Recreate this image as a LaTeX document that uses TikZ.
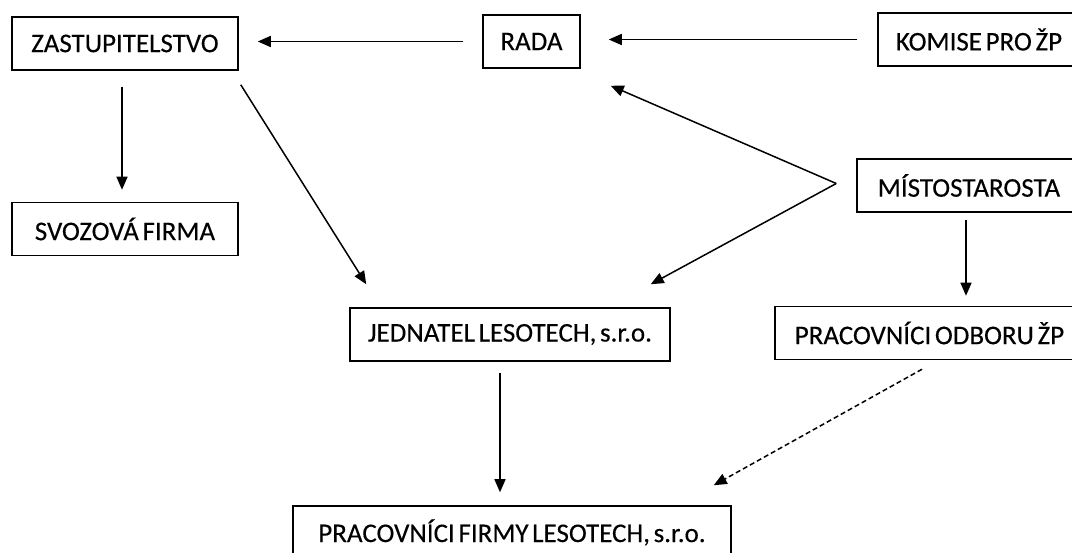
\documentclass[tikz,border=0pt]{standalone}
\usepackage{fontspec}
\setmainfont{Carlito}[WordSpace=0.6, FakeBold=0.3]
\usetikzlibrary{arrows.meta,positioning}

\tikzset{
  box/.style={draw, line width=1.5pt, minimum height=53pt, inner sep=0pt,
    font=\fontsize{27}{31}\selectfont},
  arr/.style={-{Triangle[length=13pt,width=11pt]}, line width=1.5pt},
}

\begin{document}
\begin{tikzpicture}[x=1pt,y=-1pt]
\useasboundingbox (0,0) rectangle (1072,553);

% boxes
\node[box, minimum width=226pt] (zast) at (125,43.5) {ZASTUPITELSTVO};
\node[box, minimum width=97pt] (rada) at (531.5,41.5) {RADA};
\node[box, minimum width=202pt] (komise) at (979,39.5) {KOMISE PRO ŽP};
\node[box, minimum width=226pt] (svoz) at (125,229) {SVOZOVÁ FIRMA};
\node[box, minimum width=224pt] (misto) at (969,185.5) {MÍSTOSTAROSTA};
\node[box, minimum width=320pt] (jednatel) at (510,334.5) {JEDNATEL LESOTECH, s.r.o.};
\node[box, minimum width=309pt] (odbor) at (929.5,333) {PRACOVNÍCI ODBORU ŽP};
\node[box, minimum width=438pt] (firmy) at (512,532.5) {PRACOVNÍCI FIRMY LESOTECH, s.r.o.};

\coordinate (fork) at ([xshift=-20pt,yshift=2pt]misto.west);

% arrows
\draw[arr] ([xshift=-19pt]rada.west) -- ([xshift=19pt]zast.east |- rada.west);
\draw[arr] ([xshift=-20pt]komise.west) -- ([xshift=28pt]rada.east |- komise.west);
\draw[arr] ([xshift=-3pt,yshift=-16pt]zast.south) -- ([xshift=-3pt,yshift=12pt]svoz.north);
\draw[arr] ([xshift=2pt,yshift=-14pt]zast.south east) -- ([xshift=17pt,yshift=23pt]jednatel.north west);
\draw[arr] (fork) -- ([xshift=30pt,yshift=-17pt]rada.south east);
\draw[arr] (fork) -- ([xshift=-20pt,yshift=23pt]jednatel.north east);
\draw[arr, shorten <=7pt, shorten >=10pt] ([xshift=-3pt]misto.south) -- ([xshift=-3pt]misto.south |- odbor.north);
\draw[arr, shorten <=11pt, shorten >=13pt] ([xshift=-10pt]jednatel.south) -- ([xshift=-10pt]jednatel.south |- firmy.north);
\draw[arr, dash pattern=on 5pt off 3pt] ([xshift=-7.5pt,yshift=-9pt]odbor.south) -- ([xshift=-18pt,yshift=20pt]firmy.north east);
\end{tikzpicture}
\end{document}
